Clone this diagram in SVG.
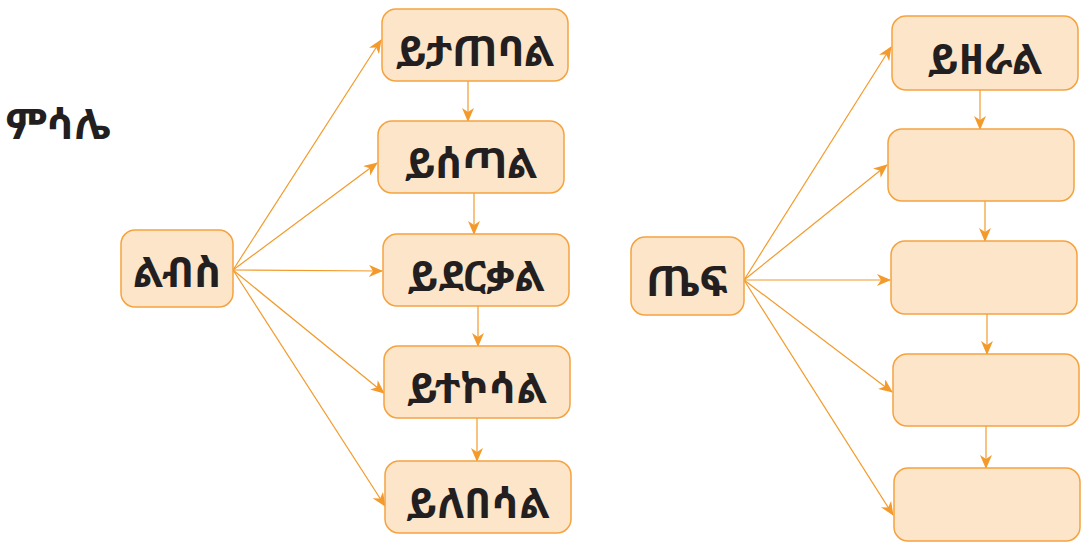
<svg xmlns="http://www.w3.org/2000/svg" width="1084" height="545" viewBox="0 0 1084 545">
<style>
.box{fill:#fde5c9;stroke:#f5a33f;stroke-width:1.5}
.t{font-family:"Noto Sans Ethiopic","Abyssinica SIL","DejaVu Sans","Noto Sans",sans-serif;font-weight:bold;font-size:42px;fill:#231f20;text-anchor:middle;dominant-baseline:central}
.c{stroke:#f39a2b;stroke-width:1.2;fill:none;marker-end:url(#a)}
</style>
<defs>
<marker id="a" viewBox="0 0 14 12" refX="13" refY="6" markerWidth="14" markerHeight="12" markerUnits="userSpaceOnUse" orient="auto">
<path d="M0,0 L14,6 L0,12 L4,6 Z" fill="#f39a2b"/>
</marker>
</defs>
<rect width="1084" height="545" fill="#fff"/>
<text class="t" x="58" y="122">ምሳሌ</text>
<g id="connectors">
<line class="c" x1="233" y1="270" x2="381" y2="40"/>
<line class="c" x1="233" y1="270" x2="377" y2="163"/>
<line class="c" x1="233" y1="270" x2="382" y2="271"/>
<line class="c" x1="233" y1="270" x2="384" y2="393"/>
<line class="c" x1="233" y1="270" x2="385" y2="506"/>
<line class="c" x1="468" y1="81" x2="468" y2="121"/>
<line class="c" x1="474" y1="193" x2="474" y2="234"/>
<line class="c" x1="478" y1="306" x2="478" y2="346"/>
<line class="c" x1="477" y1="418" x2="477" y2="461"/>
<line class="c" x1="744" y1="280" x2="891" y2="47"/>
<line class="c" x1="744" y1="280" x2="887" y2="165"/>
<line class="c" x1="744" y1="280" x2="890" y2="280"/>
<line class="c" x1="744" y1="280" x2="892" y2="392"/>
<line class="c" x1="744" y1="280" x2="893" y2="515"/>
<line class="c" x1="980" y1="90" x2="980" y2="129"/>
<line class="c" x1="985" y1="201" x2="985" y2="241"/>
<line class="c" x1="987" y1="314" x2="987" y2="354"/>
<line class="c" x1="986" y1="426" x2="986" y2="468"/>
</g>
<g id="n-libs"><rect class="box" x="121" y="230" width="112" height="77" rx="14"/><text class="t" x="177" y="270">ልብስ</text></g>
<g id="n-yitateb"><rect class="box" x="382" y="9" width="186" height="72" rx="14"/><text class="t" x="475" y="49">ይታጠባል</text></g>
<g id="n-yiset"><rect class="box" x="378" y="121" width="186" height="72" rx="14"/><text class="t" x="471" y="161">ይሰጣል</text></g>
<g id="n-yiderk"><rect class="box" x="383" y="234" width="186" height="72" rx="14"/><text class="t" x="476" y="274">ይደርቃል</text></g>
<g id="n-yitekos"><rect class="box" x="384" y="346" width="186" height="72" rx="14"/><text class="t" x="477" y="386">ይተኮሳል</text></g>
<g id="n-yilebes"><rect class="box" x="385" y="461" width="186" height="72" rx="14"/><text class="t" x="478" y="501">ይለበሳል</text></g>
<g id="n-tef"><rect class="box" x="631" y="237" width="113" height="78" rx="14"/><text class="t" x="687" y="279">ጤፍ</text></g>
<g id="n-yizeral"><rect class="box" x="892" y="16" width="186" height="74" rx="14"/><text class="t" x="985" y="57">ይዘራል</text></g>
<g id="n-r2"><rect class="box" x="888" y="129" width="186" height="72" rx="14"/></g>
<g id="n-r3"><rect class="box" x="891" y="241" width="186" height="73" rx="14"/></g>
<g id="n-r4"><rect class="box" x="893" y="354" width="186" height="72" rx="14"/></g>
<g id="n-r5"><rect class="box" x="894" y="468" width="186" height="73" rx="14"/></g>
</svg>
